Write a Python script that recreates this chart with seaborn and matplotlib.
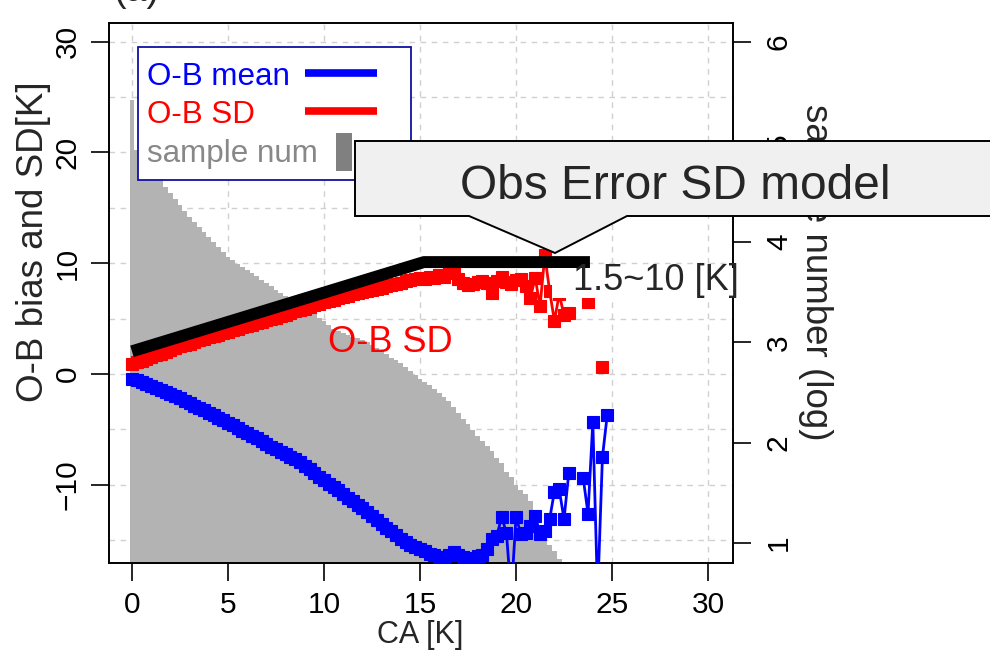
import numpy as np
import pandas as pd
import matplotlib
matplotlib.use("Agg")
import matplotlib.pyplot as plt
import seaborn as sns
from matplotlib.patches import Rectangle, Polygon
from matplotlib.lines import Line2D
from matplotlib.transforms import Affine2D

# ---------------- data ----------------
ca_bins = np.arange(0, 25, 0.25)   # CA bin centres [K]

ob_mean = [
    -0.45, -0.55, -0.70, -0.90, -1.10, -1.25, -1.45, -1.60, -1.80, -2.00,
    -2.20, -2.40, -2.65, -2.85, -3.05, -3.25, -3.50, -3.70, -3.95, -4.15,
    -4.40, -4.60, -4.85, -5.10, -5.35, -5.60, -5.80, -6.05, -6.30, -6.55,
    -6.80, -7.00, -7.20, -7.45, -7.65, -7.90, -8.30, -8.60, -8.90, -9.25,
    -9.55, -9.90, -10.20, -10.50, -10.85, -11.20, -11.50, -11.80, -12.10, -12.45,
    -12.80, -13.15, -13.50, -13.85, -14.20, -14.55, -14.90, -15.15, -15.40, -15.60,
    -15.80, -16.00, -16.20, -16.35, -16.50, -16.55, -16.30, -16.10, -16.30, -16.55,
    -16.60, -16.70, -16.40, -16.30, -15.80, -14.90, -14.60, -12.90, -14.30, -20.00,
    -12.90, -14.40, -14.30, -13.70, -12.80, -14.40, -14.20, -13.10, -10.60, -10.40,
    -13.10, -8.90, np.nan, np.nan, -9.40, -12.60, -4.30, -20.00, -7.50, -3.70,
]

ob_sd = [
    0.90, 1.05, 1.20, 1.35, 1.55, 1.70, 1.85, 2.00, 2.20, 2.35,
    2.50, 2.60, 2.75, 2.90, 3.05, 3.15, 3.30, 3.45, 3.55, 3.70,
    3.80, 3.95, 4.05, 4.20, 4.35, 4.45, 4.60, 4.70, 4.85, 5.00,
    5.10, 5.25, 5.35, 5.50, 5.65, 5.80, 5.90, 6.05, 6.20, 6.35,
    6.50, 6.60, 6.70, 6.85, 6.95, 7.05, 7.20, 7.30, 7.40, 7.50,
    7.60, 7.70, 7.80, 7.90, 8.00, 8.10, 8.25, 8.35, 8.45, 8.60,
    8.70, 8.60, 8.80, 8.70, 8.90, 8.80, 9.10, 9.20, 8.60, 8.20,
    8.00, 8.10, 8.30, 8.40, 8.20, 7.30, 8.40, 8.80, 8.30, 8.10,
    8.50, 8.60, 7.90, 6.90, 8.70, 6.10, 10.70, 7.50, 4.80, 7.20,
    5.30, 5.50, np.nan, np.nan, np.nan, 6.50, np.nan, np.nan, 0.60, np.nan,
]

sample_log = [
    5.42, 4.92, 4.86, 4.80, 4.74, 4.68, 4.62, 4.55, 4.49, 4.43,
    4.37, 4.31, 4.25, 4.20, 4.15, 4.10, 4.05, 4.00, 3.95, 3.90,
    3.85, 3.82, 3.78, 3.75, 3.72, 3.69, 3.66, 3.62, 3.59, 3.56,
    3.52, 3.49, 3.46, 3.43, 3.41, 3.38, 3.35, 3.32, 3.28, 3.24,
    3.21, 3.17, 3.13, 3.11, 3.09, 3.07, 3.05, 3.04, 3.02, 3.00,
    2.97, 2.94, 2.91, 2.88, 2.85, 2.83, 2.80, 2.76, 2.72, 2.68,
    2.64, 2.61, 2.58, 2.54, 2.50, 2.46, 2.42, 2.36, 2.30, 2.24,
    2.19, 2.13, 2.07, 2.02, 1.97, 1.92, 1.85, 1.80, 1.71, 1.66,
    1.58, 1.53, 1.49, 1.42, 1.31, 1.14, 1.06, 0.98, 0.92, 0.84,
    0.60, 0.48, np.nan, np.nan, 0.30, 0.30, 0.00, 0.00, 0.30, 0.00,
]

model_ca = [0.0, 15.2, 23.85]
model_sd = [2.05, 10.1, 10.1]

x_ticks = [0, 5, 10, 15, 20, 25, 30]
y_ticks = [-10, 0, 10, 20, 30]
r_ticks = [1, 2, 3, 4, 5, 6]

BLUE = "#0000ff"
RED = "#ff0000"
HIST = "#b3b3b3"

# ---------------- figure ----------------
sns.set_style("white")
plt.rcParams["font.family"] = ["Liberation Sans", "DejaVu Sans"]

W, H = 990, 650
fig = plt.figure(figsize=(W / 100, H / 100), dpi=100)
px = Affine2D().scale(1 / W, -1 / H).translate(0, 1) + fig.transFigure

L, R, T, B = 109.3, 733, 22.7, 563
rect = [L / W, 1 - B / H, (R - L) / W, (B - T) / H]
XLIM = (-1.18, 31.3)
YLIM = (-17.05, 31.7)
RLIM = (0.80, 6.19)

# grid axes (behind everything)
axg = fig.add_axes(rect)
axg.set_xlim(*XLIM)
axg.set_ylim(*YLIM)
axg.set_xticks(np.arange(0, 31, 5))
axg.set_yticks(np.arange(-15, 31, 5))
axg.grid(True, color="#d0d0d0", linestyle=(0, (4, 4)), linewidth=1.0)
axg.tick_params(left=False, bottom=False, labelleft=False, labelbottom=False)
for s in axg.spines.values():
    s.set_visible(False)
axg.set_zorder(0)

# main axes and twin for histogram
ax = fig.add_axes(rect)
ax2 = ax.twinx()
ax2.set_zorder(1)
ax.set_zorder(2)
ax.patch.set_visible(False)
ax2.patch.set_visible(False)

# histogram (log10 sample number)
hist_df = pd.DataFrame({"ca": ca_bins, "logn": sample_log}).dropna()
edges = [float(e) for e in np.append(ca_bins - 0.125, ca_bins[-1] + 0.125)]
sns.histplot(data=hist_df, x="ca", weights="logn", bins=edges, element="step",
             fill=True, color=HIST, alpha=1.0, linewidth=0, ax=ax2)
ax2.set_ylim(*RLIM)
ax2.set_yticks(r_ticks)
ax2.set_ylabel("")
ax2.set_xlim(*XLIM)


def series_frame(vals):
    df = pd.DataFrame({"ca": ca_bins, "v": vals})
    df["seg"] = df["v"].isna().cumsum()
    return df.dropna()


for vals, col in [(ob_sd, RED), (ob_mean, BLUE)]:
    d = series_frame(vals)
    sns.lineplot(data=d, x="ca", y="v", units="seg", estimator=None, sort=False,
                 color=col, linewidth=2.0, marker="s", markersize=8.2,
                 markeredgecolor=col, markeredgewidth=0.8, ax=ax, zorder=3)

# model line (on top of the series)
sns.lineplot(x=model_ca, y=model_sd, color="black", linewidth=8.6, ax=ax,
             solid_capstyle="butt", zorder=5, sort=False)

ax.set_xlim(*XLIM)
ax.set_ylim(*YLIM)
ax.set_xticks(x_ticks)
ax.set_yticks(y_ticks)
ax.set_xlabel("")
ax.set_ylabel("")

for a in (ax, ax2):
    for s in a.spines.values():
        s.set_visible(True)
        s.set_color("black")
        s.set_linewidth(1.2)
    a.tick_params(direction="out", length=13, width=1.2, labelsize=21.5,
                  pad=7, colors="black")
ax.tick_params(axis="x", pad=7)
ax2.tick_params(axis="y", pad=10)
ax2.tick_params(axis="x", bottom=False, labelbottom=False)
ax.tick_params(axis="both", left=True, bottom=True)
plt.setp(ax.get_yticklabels(), rotation=90, va="center")
plt.setp(ax2.get_yticklabels(), rotation=90, va="center")

# axis labels
fig.text(34, 242, "O-B bias and SD[K]", transform=px, rotation=90,
         ha="center", va="center", fontsize=26.5)
fig.text(420, 635, "CA [K]", transform=px, ha="center", va="center", fontsize=22)
fig.text(815, 272, "sample number (log)", transform=px, rotation=270,
         ha="center", va="center", fontsize=26.5, zorder=4)
fig.text(137, 1, "(a)", transform=px, ha="center", va="baseline", fontsize=27)

# "O-B SD" annotation
ax.text(13.46, 1.99, "O-B SD", color=RED, fontsize=26, ha="center",
        va="baseline", zorder=6)

# 1.5~10 [K] label with white background
fig.add_artist(Rectangle((552, 268), 193, 30, transform=px, facecolor="white",
                         edgecolor="none", zorder=4))
fig.text(573, 290, "1.5~10 [K]", transform=px, ha="left", va="baseline",
         fontsize=26, zorder=4.5)

# legend box
fig.add_artist(Rectangle((138, 47), 273, 133, transform=px, facecolor="white",
                         edgecolor="#1010a0", linewidth=1.3, zorder=5))
fig.text(147, 85, "O-B mean", transform=px, color=BLUE, fontsize=22.6,
         va="baseline", zorder=5.5)
fig.text(147, 123, "O-B SD", transform=px, color=RED, fontsize=22.6,
         va="baseline", zorder=5.5)
fig.text(147, 162, "sample num", transform=px, color="#888888", fontsize=22.6,
         va="baseline", zorder=5.5)
fig.add_artist(Line2D([305, 377], [72.7, 72.7], transform=px, color=BLUE,
                      linewidth=5.5, solid_capstyle="butt", zorder=5.5))
fig.add_artist(Line2D([305, 377], [110.5, 110.5], transform=px, color=RED,
                      linewidth=5.5, solid_capstyle="butt", zorder=5.5))
fig.add_artist(Rectangle((336, 133), 16, 38, transform=px, facecolor="#808080",
                         edgecolor="none", zorder=5.5))

# callout "Obs Error SD model"
callout = [(355, 141), (1000, 141), (1000, 216), (627, 216), (555, 253),
           (469, 216), (355, 216)]
fig.add_artist(Polygon(callout, closed=True, transform=px, facecolor="#f0f0f0",
                       edgecolor="black", linewidth=1.4, zorder=6))
fig.text(675, 199, "Obs Error SD model", transform=px, ha="center",
         va="baseline", fontsize=34.5, zorder=6.5)

fig.savefig("out.png", dpi=100)
